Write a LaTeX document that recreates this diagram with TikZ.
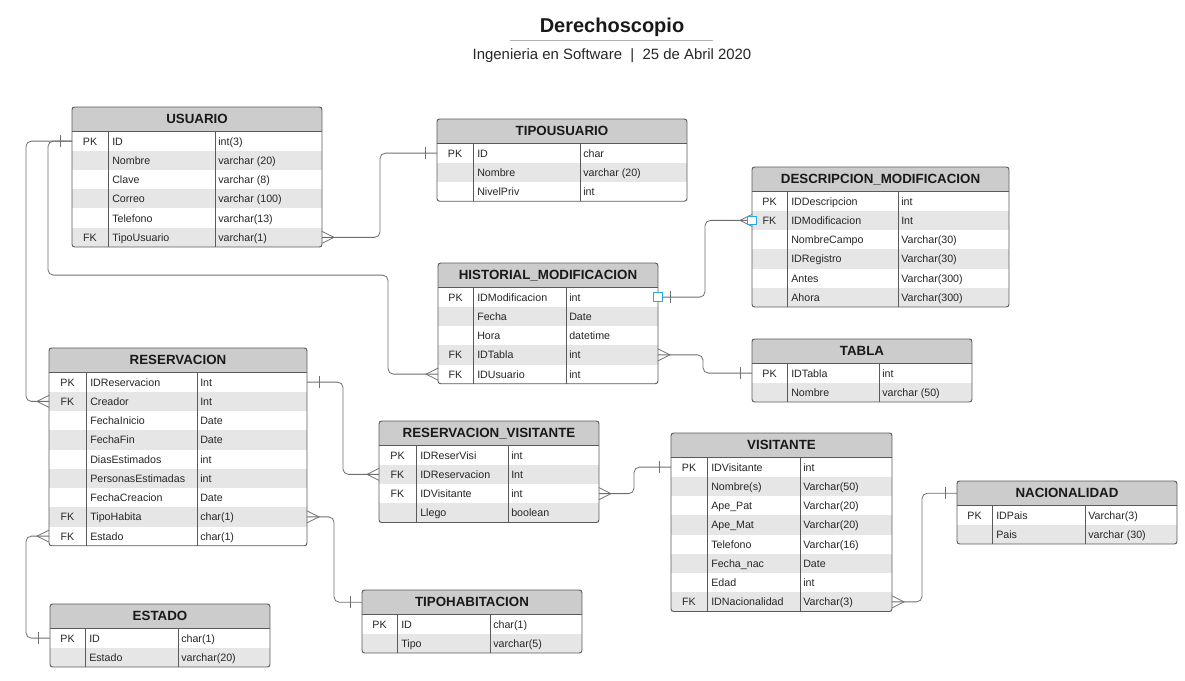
\documentclass[tikz,border=0pt]{standalone}
\usepackage{fontspec}
\setmainfont{Liberation Sans}

\definecolor{headgrey}{HTML}{CCCCCC}
\definecolor{rowgrey}{HTML}{E6E6E6}
\definecolor{edgegrey}{HTML}{5A5A5A}
\definecolor{linkgrey}{HTML}{6E6E6E}
\definecolor{selblue}{HTML}{29A9E0}

\tikzset{
  tabhead/.style={fill=headgrey, inner sep=0, outer sep=0, minimum height=18.4pt,
    font=\fontsize{10}{12}\selectfont\bfseries, text=black!90},
  tabrow/.style={inner sep=0, outer sep=0, minimum height=14.44pt},
  cell/.style={inner sep=0, font=\fontsize{8}{9}\selectfont, text=black!85,
    text height=1.5ex, text depth=0.35ex},
  tabline/.style={draw=edgegrey, line width=0.7pt},
  link/.style={draw=linkgrey, line width=0.6pt, rounded corners=4pt},
  selbox/.style={draw=selblue, fill=white, line width=0.75pt, inner sep=0, minimum size=6.5pt},
  manyl/.pic={\draw[link, sharp corners] (0,-6) -- (-12,0) -- (0,6);},
  manyr/.pic={\draw[link, sharp corners] (0,-6) -- (12,0) -- (0,6);},
  onel/.pic={\draw[link] (-12,-6) -- (-12,6);},
  oner/.pic={\draw[link] (12,-6) -- (12,6);}
}

% #1 name, #2 title, #3 #4 top left, #5 #6 #7 column widths, #8 number of rows, #9 rows
\newcommand{\ertable}[9]{%
  \pgfmathsetmacro{\tabw}{#5+#6+#7}
  \node[tabhead, minimum width=\tabw*0.75pt, anchor=north west] (#1) at (#3,#4) {#2};
  \foreach \kcol/\fcol/\tcol [count=\i] in {#9} {
    \ifodd\i \def\rowcol{white}\else \def\rowcol{rowgrey}\fi
    \node[tabrow, fill=\rowcol, minimum width=\tabw*0.75pt, anchor=north west]
      (#1-\i) at (#3,{#4+24.5+19.25*(\i-1)}) {};
    \node[cell] (#1-\i-k) at ({#3+#5/2},{#4+24.5+19.25*(\i-0.5)}) {\kcol};
    \node[cell, anchor=west] (#1-\i-f) at ({#3+#5+4},{#4+24.5+19.25*(\i-0.5)}) {\fcol};
    \node[cell, anchor=west] (#1-\i-t) at ({#3+#5+#6+3},{#4+24.5+19.25*(\i-0.5)}) {\tcol};
    \draw[tabline] ({#3+#5},{#4+24.5+19.25*(\i-1)}) -- ++(0,19.25)
                   ({#3+#5+#6},{#4+24.5+19.25*(\i-1)}) -- ++(0,19.25);
  }
  \draw[tabline] (#1.south west) -- (#1.south east);
  \draw[tabline, rounded corners=2pt] (#1.north west) rectangle (#1-#8.south east);
}

\begin{document}
\begin{tikzpicture}[x=0.75pt, y=-0.75pt]
  \useasboundingbox (0,0) rectangle (1185,681);

  % Title
  \node[font=\fontsize{15}{18}\selectfont\bfseries, text=black!90] (title) at (612,27) {Derechoscopio};
  \draw[black!30, line width=0.75pt] (510,41) -- (713,41);
  \node[font=\fontsize{11.2}{13}\selectfont, text=black!85] (subtitle) at (612,56)
    {Ingenieria en Software\ \ |\ \ 25 de Abril 2020};

  % Tables
  \ertable{usuario}{USUARIO}{72}{107}{36}{107}{107}{6}{PK/ID/int(3), /Nombre/varchar (20),
    /Clave/varchar (8), /Correo/varchar (100), /Telefono/varchar(13), FK/TipoUsuario/varchar(1)}
  \ertable{tipousuario}{TIPOUSUARIO}{437}{119}{36}{107}{107}{3}{PK/ID/char,
    /Nombre/varchar (20), /NivelPriv/int}
  \ertable{descripcion}{DESCRIPCION\_MODIFICACION}{752}{167}{35}{111}{111}{6}{PK/IDDescripcion/int,
    FK/IDModificacion/Int, /NombreCampo/Varchar(30), /IDRegistro/Varchar(30),
    /Antes/Varchar(300), /Ahora/Varchar(300)}
  \ertable{historial}{HISTORIAL\_MODIFICACION}{438}{263}{35}{93}{92}{5}{PK/IDModificacion/int,
    /Fecha/Date, /Hora/datetime, FK/IDTabla/int, FK/IDUsuario/int}
  \ertable{tabla}{TABLA}{752}{339}{35}{92}{93}{2}{PK/IDTabla/int, /Nombre/varchar (50)}
  \ertable{reservacion}{RESERVACION}{49}{348}{37}{111}{110}{9}{PK/IDReservacion/Int,
    FK/Creador/Int, /FechaInicio/Date, /FechaFin/Date, /DiasEstimados/int,
    /PersonasEstimadas/int, /FechaCreacion/Date, FK/TipoHabita/char(1), FK/Estado/char(1)}
  \ertable{resvis}{RESERVACION\_VISITANTE}{379}{421}{37}{92}{91}{4}{PK/IDReserVisi/int,
    FK/IDReservacion/Int, FK/IDVisitante/int, /Llego/boolean}
  \ertable{visitante}{VISITANTE}{671}{433}{36}{93}{92}{8}{PK/IDVisitante/int,
    /Nombre(s)/Varchar(50), /Ape\_Pat/Varchar(20), /Ape\_Mat/Varchar(20),
    /Telefono/Varchar(16), /Fecha\_nac/Date, /Edad/int, FK/IDNacionalidad/Varchar(3)}
  \ertable{nacionalidad}{NACIONALIDAD}{957}{481}{35}{93}{92}{2}{PK/IDPais/Varchar(3),
    /Pais/varchar (30)}
  \ertable{estado}{ESTADO}{50}{604}{35}{93}{92}{2}{PK/ID/char(1), /Estado/varchar(20)}
  \ertable{tipohab}{TIPOHABITACION}{362}{590}{35}{93}{92}{2}{PK/ID/char(1), /Tipo/varchar(5)}

  % Relations
  \draw[link] (usuario-1.west) -- ++(-46,0) |- (reservacion-2.west);
  \draw[link] (usuario-1.west) -- ++(-24,0) -- ++(0,134) -- ++(340,0) |- (historial-5.west);
  \draw[link] (usuario-6.east) -- ++(58,0) |- (tipousuario-1.west);
  \draw[link] (historial-1.east) -- ++(47,0) |- (descripcion-2.west);
  \draw[link] (historial-4.east) -- ++(45,0) |- (tabla-1.west);
  \draw[link] (reservacion-1.east) -- ++(36,0) |- (resvis-2.west);
  \draw[link] (resvis-3.east) -- ++(35,0) |- (visitante-1.west);
  \draw[link] (reservacion-8.east) -- ++(27,0) |- (tipohab.west);
  \draw[link] (reservacion-9.west) -- ++(-23,0) |- (estado-1.west);
  \draw[link] (visitante-8.east) -- ++(30,0) |- (nacionalidad.west);

  % Ends
  \pic at (usuario-1.west) {onel};
  \pic at (reservacion-2.west) {manyl};
  \pic at (historial-5.west) {manyl};
  \pic at (usuario-6.east) {manyr};
  \pic at (tipousuario-1.west) {onel};
  \pic at (historial-1.east) {oner};
  \pic at (descripcion-2.west) {manyl};
  \pic at (historial-4.east) {manyr};
  \pic at (tabla-1.west) {onel};
  \pic at (reservacion-1.east) {oner};
  \pic at (resvis-2.west) {manyl};
  \pic at (resvis-3.east) {manyr};
  \pic at (visitante-1.west) {onel};
  \pic at (reservacion-8.east) {manyr};
  \pic at (tipohab.west) {onel};
  \pic at (reservacion-9.west) {manyl};
  \pic at (estado-1.west) {onel};
  \pic at (visitante-8.east) {manyr};
  \pic at (nacionalidad.west) {onel};

  \node[selbox] (selA) at (historial-1.east) {};
  \node[selbox] (selB) at (descripcion-2.west) {};
\end{tikzpicture}
\end{document}
